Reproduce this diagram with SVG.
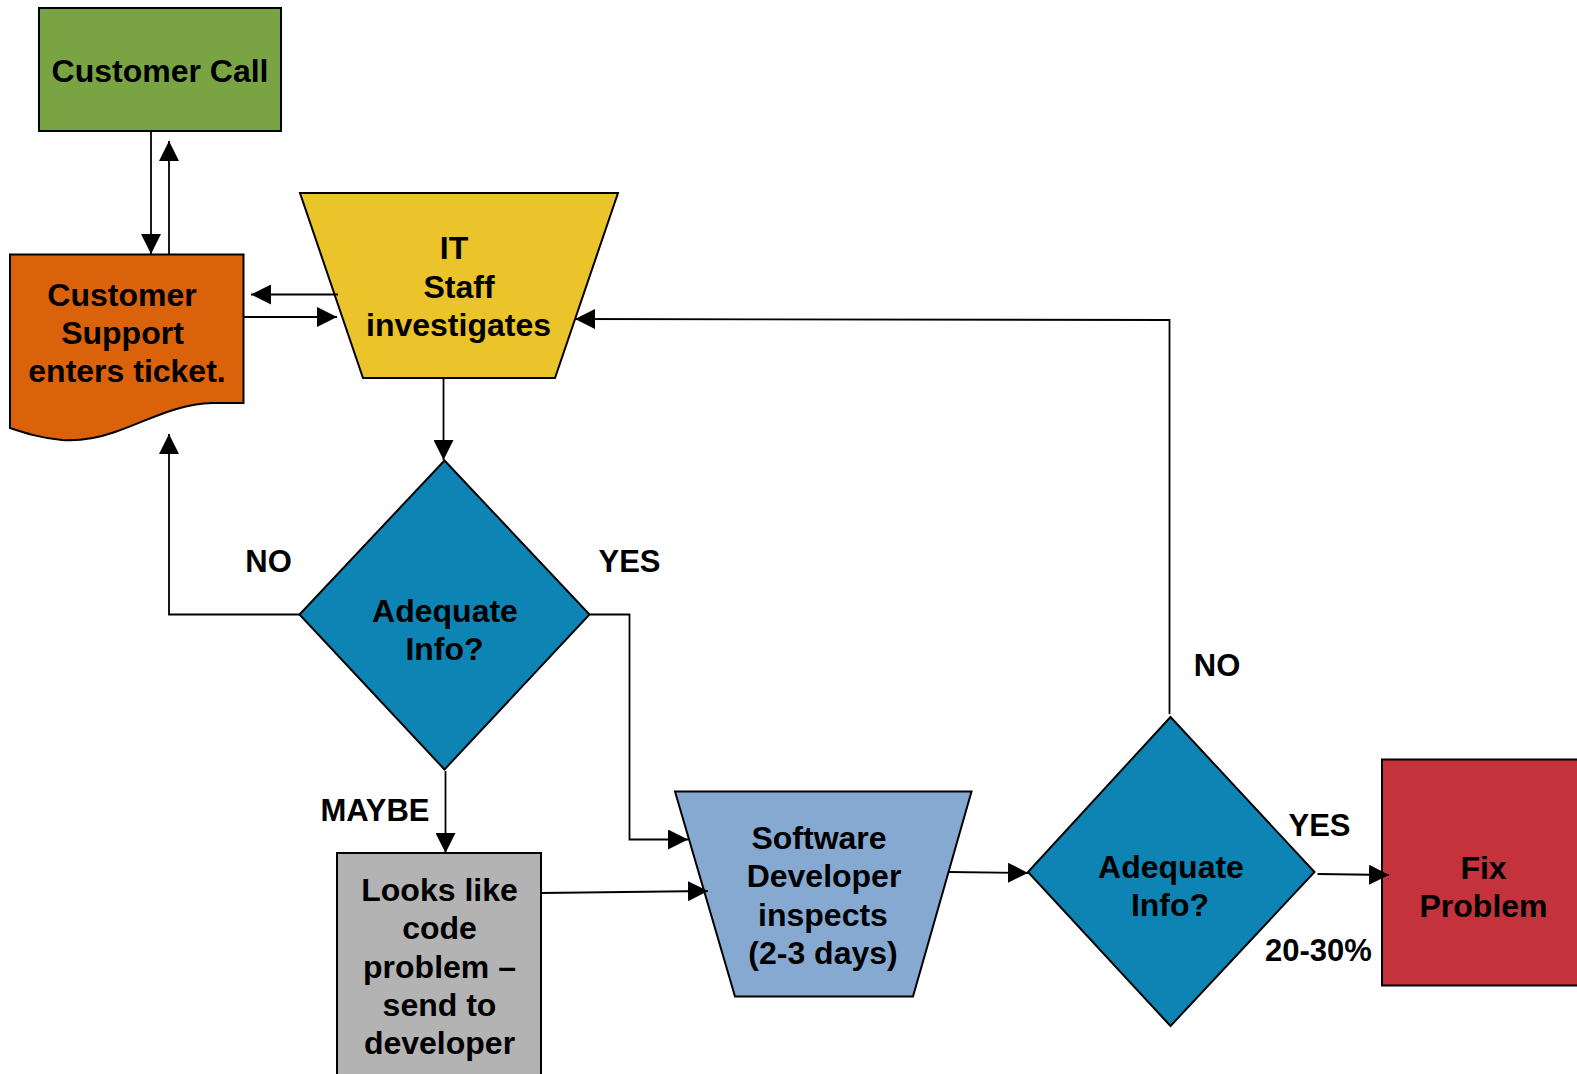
<svg xmlns="http://www.w3.org/2000/svg" width="1577" height="1074" viewBox="0 0 1577 1074">
  <defs>
    <marker id="arrow" markerUnits="userSpaceOnUse" markerWidth="22" markerHeight="20" refX="20" refY="10" orient="auto">
      <path d="M0,0 L20,10 L0,20 Z" fill="#000"/>
    </marker>
  </defs>
  <style>
    .node { stroke: #000; stroke-width: 2; }
    .lbl { font-family: "Liberation Sans", Arial, sans-serif; font-weight: bold; font-size: 32px; fill: #000; text-anchor: middle; }
    .tag { font-family: "Liberation Sans", Arial, sans-serif; font-weight: bold; font-size: 31px; fill: #000; text-anchor: middle; }
    .conn { fill: none; stroke: #000; stroke-width: 1.8; }
  </style>
  <rect width="1577" height="1074" fill="#fff"/>

  <!-- nodes -->
  <g id="customer-call">
    <rect class="node" x="39" y="8" width="242" height="123" fill="#7AA444"/>
    <text class="lbl" x="160" y="81.5">Customer Call</text>
  </g>

  <g id="customer-support">
    <path class="node" fill="#D9620B" d="M10,254.5 H243.5 V403 H213 C175,404 145,422 115,432 C95,439 78,441 62,440 C40,438 25,433 10,428 Z"/>
    <text class="lbl" x="122" y="306">Customer</text>
    <text class="lbl" x="122.5" y="344">Support</text>
    <text class="lbl" x="127" y="382">enters ticket.</text>
  </g>

  <g id="it-staff">
    <polygon class="node" fill="#EBC32B" points="300,193 618,193 555,378 363,378"/>
    <text class="lbl" x="454" y="258.5">IT</text>
    <text class="lbl" x="459" y="297.5">Staff</text>
    <text class="lbl" x="458.5" y="336">investigates</text>
  </g>

  <g id="decision-1">
    <polygon class="node" fill="#0E84B4" points="444.5,460.5 589.5,614.5 444.5,769.5 299.5,614.5"/>
    <text class="lbl" x="445" y="621.5">Adequate</text>
    <text class="lbl" x="444.5" y="660">Info?</text>
  </g>

  <g id="code-problem">
    <rect class="node" x="337" y="853" width="204" height="240" fill="#B3B3B3"/>
    <text class="lbl" x="439.5" y="901">Looks like</text>
    <text class="lbl" x="439.5" y="939">code</text>
    <text class="lbl" x="439.5" y="977.5">problem –</text>
    <text class="lbl" x="439.5" y="1015.5">send to</text>
    <text class="lbl" x="439.5" y="1054">developer</text>
  </g>

  <g id="developer-inspects">
    <polygon class="node" fill="#85A9D0" points="675,791.5 971.5,791.5 913,996.5 735,996.5"/>
    <text class="lbl" x="819" y="849">Software</text>
    <text class="lbl" x="824" y="887">Developer</text>
    <text class="lbl" x="823" y="926">inspects</text>
    <text class="lbl" x="823" y="964">(2-3 days)</text>
  </g>

  <g id="decision-2">
    <polygon class="node" fill="#0E84B4" points="1170.5,717 1314.5,872 1170.5,1026 1028,872"/>
    <text class="lbl" x="1171" y="878">Adequate</text>
    <text class="lbl" x="1170" y="916">Info?</text>
  </g>

  <g id="fix-problem">
    <rect class="node" x="1382" y="759.5" width="210" height="226" fill="#C4323C"/>
    <text class="lbl" x="1483.5" y="879">Fix</text>
    <text class="lbl" x="1483.5" y="917">Problem</text>
  </g>

  <!-- connectors -->
  <g id="connectors">
    <path class="conn" marker-end="url(#arrow)" d="M151,131 V254"/>
    <path class="conn" marker-end="url(#arrow)" d="M169,254 V141"/>
    <path class="conn" marker-end="url(#arrow)" d="M338,294.5 H251"/>
    <path class="conn" marker-end="url(#arrow)" d="M244,317 H337"/>
    <path class="conn" marker-end="url(#arrow)" d="M443.5,377 V460"/>
    <path class="conn" marker-end="url(#arrow)" d="M299.5,614.5 H169 V434"/>
    <path class="conn" marker-end="url(#arrow)" d="M589.5,614.5 H629.5 V839.5 H688"/>
    <path class="conn" marker-end="url(#arrow)" d="M445.5,771 V853"/>
    <path class="conn" marker-end="url(#arrow)" d="M541,893 L708,891"/>
    <path class="conn" marker-end="url(#arrow)" d="M949,872 L1028,873"/>
    <path class="conn" marker-end="url(#arrow)" d="M1169.5,714 V320 L575,319"/>
    <path class="conn" marker-end="url(#arrow)" d="M1317.5,874 L1389,875"/>
  </g>

  <!-- branch labels -->
  <g id="labels">
    <text class="tag" x="268.5" y="572">NO</text>
    <text class="tag" x="629.5" y="572">YES</text>
    <text class="tag" x="375" y="820.5">MAYBE</text>
    <text class="tag" x="1217" y="676">NO</text>
    <text class="tag" x="1319.5" y="835.5">YES</text>
    <text class="tag" x="1318.5" y="961">20-30%</text>
  </g>
</svg>
